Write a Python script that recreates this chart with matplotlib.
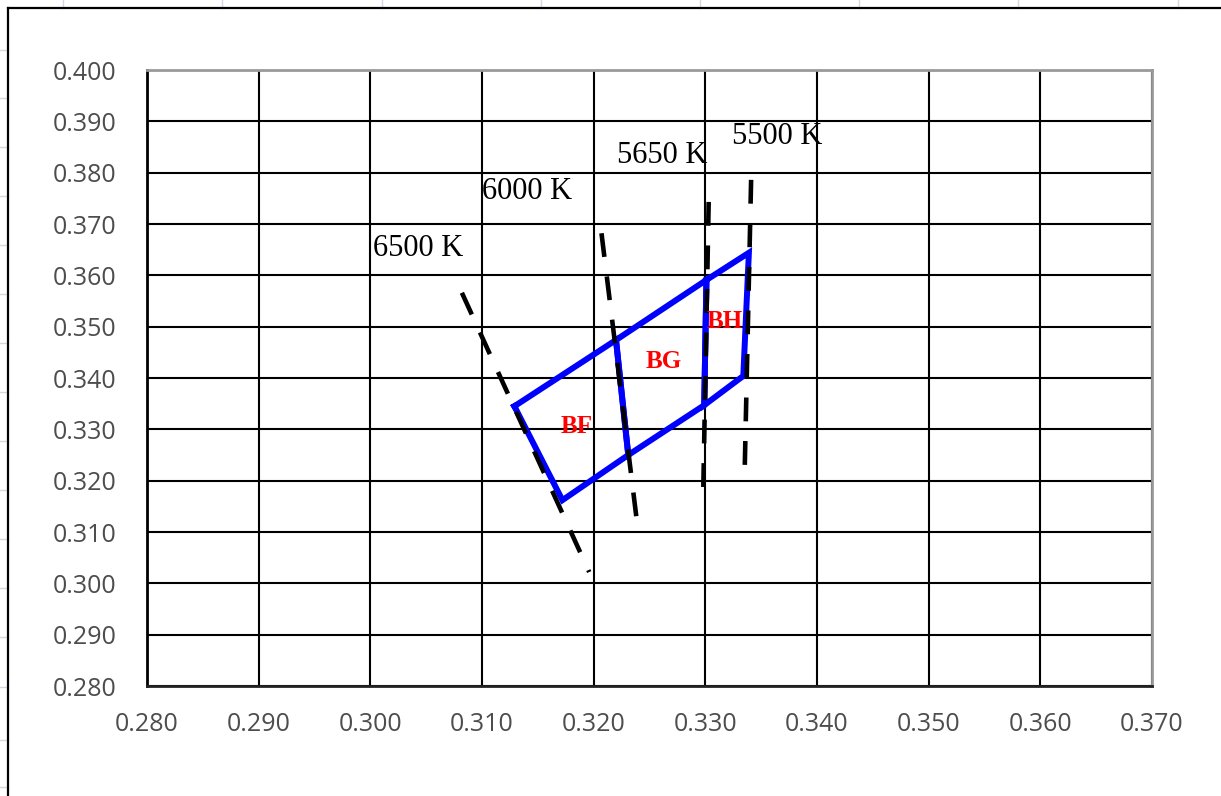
import matplotlib
matplotlib.use('Agg')
from matplotlib import pyplot as plt
from matplotlib.lines import Line2D

# axis ranges and ticks
x_ticks = [0.280, 0.290, 0.300, 0.310, 0.320, 0.330, 0.340, 0.350, 0.360, 0.370]
y_ticks = [0.280, 0.290, 0.300, 0.310, 0.320, 0.330, 0.340, 0.350, 0.360, 0.370, 0.380, 0.390, 0.400]

# isotherm lines (dashed) : start / end points
iso_names = ['6500 K', '6000 K', '5650 K', '5500 K']
iso_x = [[0.3082, 0.3196], [0.3207, 0.3240], [0.3303, 0.3298], [0.3341, 0.3335]]
iso_y = [[0.3566, 0.3022], [0.3682, 0.3098], [0.3743, 0.3166], [0.3786, 0.3197]]
iso_label_x = [0.3002, 0.3100, 0.3221, 0.3324]
iso_label_y = [0.3653, 0.3764, 0.3833, 0.3870]

# bins (blue quadrilaterals)
bin_names = ['BF', 'BG', 'BH']
bin_x = [[0.3129, 0.3220, 0.3231, 0.3172],
         [0.3220, 0.3301, 0.3299, 0.3231],
         [0.3301, 0.3339, 0.3334, 0.3299]]
bin_y = [[0.3345, 0.3474, 0.3250, 0.3162],
         [0.3474, 0.3591, 0.3347, 0.3250],
         [0.3591, 0.3644, 0.3404, 0.3347]]
bin_label_x = [0.3185, 0.3263, 0.3317]
bin_label_y = [0.3306, 0.3433, 0.3510]

fig = plt.figure(figsize=(12.21, 7.96), dpi=100)
fig.patch.set_facecolor('white')

# spreadsheet cell lines behind the chart
W, H = 1221.0, 796.0
for px in [63, 222, 382, 541, 700, 859, 1018, 1178]:
    fig.add_artist(Line2D([px / W, px / W], [1, 1 - 8 / H], color='#d0d7e5', lw=1, transform=fig.transFigure))
for py in [50, 98, 147, 196, 245, 294, 343, 392, 441, 490, 539, 588, 637, 687, 740, 787]:
    fig.add_artist(Line2D([0, 8 / W], [1 - py / H, 1 - py / H], color='#d0d7e5', lw=1, transform=fig.transFigure))
# chart frame (top + left visible)
fig.add_artist(Line2D([8 / W, 1], [1 - 8 / H, 1 - 8 / H], color='black', lw=1.6, transform=fig.transFigure))
fig.add_artist(Line2D([8 / W, 8 / W], [0, 1 - 8 / H], color='black', lw=1.6, transform=fig.transFigure))

ax = fig.add_axes([147 / W, 1 - 686 / H, (1152 - 147) / W, (686 - 70) / H])
ax.set_xlim(x_ticks[0], x_ticks[-1])
ax.set_ylim(y_ticks[0], y_ticks[-1])
ax.set_xticks(x_ticks)
ax.set_yticks(y_ticks)
ax.set_xticklabels(['%.3f' % v for v in x_ticks])
ax.set_yticklabels(['%.3f' % v for v in y_ticks])
ax.tick_params(length=0, labelsize=18, labelcolor='#4d4d4d')
ax.tick_params(axis='y', pad=22)
ax.tick_params(axis='x', pad=19)
for lab in ax.get_xticklabels() + ax.get_yticklabels():
    lab.set_fontfamily('Open Sans')
ax.grid(True, color='black', lw=1.5)
ax.set_axisbelow(True)
ax.spines['left'].set_color('black')
ax.spines['left'].set_linewidth(2)
ax.spines['bottom'].set_color('#222222')
ax.spines['bottom'].set_linewidth(2)
ax.spines['top'].set_color('#9a9a9a')
ax.spines['top'].set_linewidth(2)
ax.spines['right'].set_color('#9a9a9a')
ax.spines['right'].set_linewidth(2)

for i in range(len(bin_names)):
    xs = bin_x[i] + [bin_x[i][0]]
    ys = bin_y[i] + [bin_y[i][0]]
    ax.plot(xs, ys, color='#0000ff', lw=4.3, solid_joinstyle='miter', zorder=3)
    ax.text(bin_label_x[i], bin_label_y[i], bin_names[i], color='red', fontsize=18, fontweight='bold',
            family='Liberation Serif', ha='center', va='center', zorder=5)

for i in range(len(iso_names)):
    ax.plot(iso_x[i], iso_y[i], color='black', lw=3.3, dashes=(5.2, 4.3), zorder=4)
    ax.text(iso_label_x[i], iso_label_y[i], iso_names[i], color='black', fontsize=22,
            family='Liberation Serif', ha='left', va='center', zorder=5)

fig.savefig('out.png', dpi=100)
